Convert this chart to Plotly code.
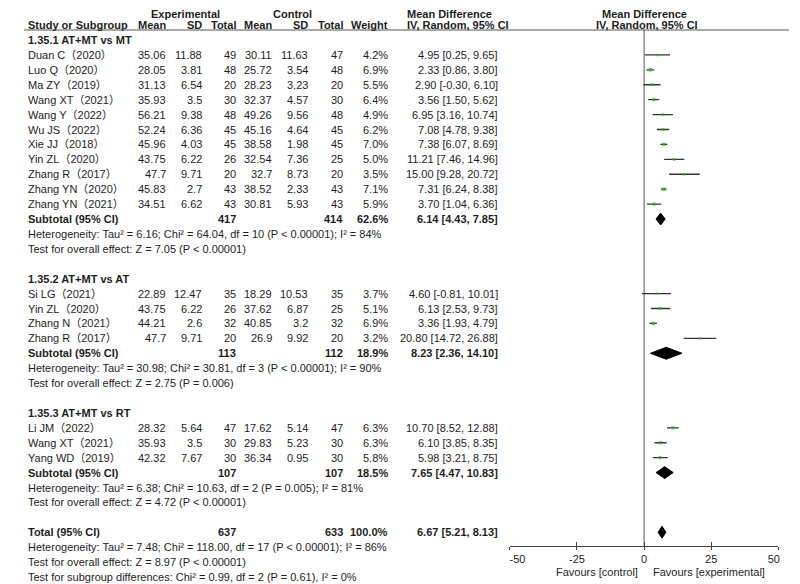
import plotly.graph_objects as go

# ---------------- data ----------------
groups = ["1.35.1 AT+MT vs MT", "1.35.2 AT+MT vs AT", "1.35.3 AT+MT vs RT"]

study_group = [0] * 11 + [1] * 4 + [2] * 3
studies = ["Duan C（2020）", "Luo Q（2020）", "Ma ZY（2019）", "Wang XT（2021）",
           "Wang Y（2022）", "Wu JS（2022）", "Xie JJ（2018）", "Yin ZL（2020）",
           "Zhang R（2017）", "Zhang YN（2020）", "Zhang YN（2021）",
           "Si LG（2021）", "Yin ZL（2020）", "Zhang N（2021）", "Zhang R（2017）",
           "Li JM（2022）", "Wang XT（2021）", "Yang WD（2019）"]
exp_mean = ["35.06", "28.05", "31.13", "35.93", "56.21", "52.24", "45.96", "43.75", "47.7", "45.83", "34.51",
            "22.89", "43.75", "44.21", "47.7",
            "28.32", "35.93", "42.32"]
exp_sd = ["11.88", "3.81", "6.54", "3.5", "9.38", "6.36", "4.03", "6.22", "9.71", "2.7", "6.62",
          "12.47", "6.22", "2.6", "9.71",
          "5.64", "3.5", "7.67"]
exp_n = [49, 48, 20, 30, 48, 45, 45, 26, 20, 43, 43,
         35, 26, 32, 20,
         47, 30, 30]
ctl_mean = ["30.11", "25.72", "28.23", "32.37", "49.26", "45.16", "38.58", "32.54", "32.7", "38.52", "30.81",
            "18.29", "37.62", "40.85", "26.9",
            "17.62", "29.83", "36.34"]
ctl_sd = ["11.63", "3.54", "3.23", "4.57", "9.56", "4.64", "1.98", "7.36", "8.73", "2.33", "5.93",
          "10.53", "6.87", "3.2", "9.92",
          "5.14", "5.23", "0.95"]
ctl_n = [47, 48, 20, 30, 48, 45, 45, 25, 20, 43, 43,
         35, 25, 32, 20,
         47, 30, 30]
weight = [4.2, 6.9, 5.5, 6.4, 4.9, 6.2, 7.0, 5.0, 3.5, 7.1, 5.9,
          3.7, 5.1, 6.9, 3.2,
          6.3, 6.3, 5.8]
md = [4.95, 2.33, 2.90, 3.56, 6.95, 7.08, 7.38, 11.21, 15.00, 7.31, 3.70,
      4.60, 6.13, 3.36, 20.80,
      10.70, 6.10, 5.98]
md_lo = [0.25, 0.86, -0.30, 1.50, 3.16, 4.78, 6.07, 7.46, 9.28, 6.24, 1.04,
         -0.81, 2.53, 1.93, 14.72,
         8.52, 3.85, 3.21]
md_hi = [9.65, 3.80, 6.10, 5.62, 10.74, 9.38, 8.69, 14.96, 20.72, 8.38, 6.36,
         10.01, 9.73, 4.79, 26.88,
         12.88, 8.35, 8.75]

sub_exp_n = [417, 113, 107]
sub_ctl_n = [414, 112, 107]
sub_weight = ["62.6%", "18.9%", "18.5%"]
sub_md = [6.14, 8.23, 7.65]
sub_lo = [4.43, 2.36, 4.47]
sub_hi = [7.85, 14.10, 10.83]
sub_het = ["Heterogeneity: Tau² = 6.16; Chi² = 64.04, df = 10 (P < 0.00001); I² = 84%",
           "Heterogeneity: Tau² = 30.98; Chi² = 30.81, df = 3 (P < 0.00001); I² = 90%",
           "Heterogeneity: Tau² = 6.38; Chi² = 10.63, df = 2 (P = 0.005); I² = 81%"]
sub_test = ["Test for overall effect: Z = 7.05 (P < 0.00001)",
            "Test for overall effect: Z = 2.75 (P = 0.006)",
            "Test for overall effect: Z = 4.72 (P < 0.00001)"]

total_exp_n = 637
total_ctl_n = 633
total_weight = "100.0%"
total_md, total_lo, total_hi = 6.67, 5.21, 8.13
total_notes = ["Heterogeneity: Tau² = 7.48; Chi² = 118.00, df = 17 (P < 0.00001); I² = 86%",
               "Test for overall effect: Z = 8.97 (P < 0.00001)",
               "Test for subgroup differences: Chi² = 0.99, df = 2 (P = 0.61), I² = 0%"]

x_ticks = [-50, -25, 0, 25, 50]
x_tick_labels = ["-50", "-25", "0", "25", "50"]
favours = ["Favours [control]", "Favours [experimental]"]

# ---------------- layout helpers ----------------
# the page body has an 8px margin, so the figure is 8px smaller and all
# reference-pixel positions are shifted by OFF
OFF = 8
W, H = 800 - OFF, 584 - OFF
FONT = "Liberation Sans, Arial, Noto Sans CJK SC, sans-serif"
TXT = "#1e1e1e"
FS = 11

ROW_PX = 14.917
TOP_PX = 40.0 - OFF


def px(x):
    return (x - OFF) / W


def px_to_row(p):
    return ((p - OFF) - TOP_PX) / ROW_PX


ann = []


def text(x, row, s, anchor="left", bold=False):
    ann.append(dict(x=px(x), y=row, xref="paper", yref="y", text=("<b>%s</b>" % s) if bold else s,
                    showarrow=False, xanchor=anchor, yanchor="middle",
                    font=dict(family=FONT, size=FS, color=TXT)))


# column positions (reference pixels)
C_NAME = 10
C_EM, C_ESD, C_EN = 157, 194, 230
C_CM, C_CSD, C_CN = 267, 304, 340
C_W = 387
C_CI = 501

# headers
h1 = px_to_row(14)
text(175, h1, "Experimental", "center", True)
text(286, h1, "Control", "center", True)
text(402, h1, "Mean Difference", "left", True)
text(650, h1, "Mean Difference", "center", True)
hr = px_to_row(25)
text(C_NAME, hr, "Study or Subgroup", "left", True)
for xx, s in [(C_EM, "Mean"), (C_ESD, "SD"), (C_EN, "Total"), (C_CM, "Mean"), (C_CSD, "SD"),
              (C_CN, "Total"), (C_W, "Weight")]:
    text(xx, hr, s, "right", True)
text(402, hr, "IV, Random, 95% CI", "left", True)
text(653, hr, "IV, Random, 95% CI", "center", True)

fig = go.Figure()

row = 0
study_rows = []
sub_rows = []
for g, gname in enumerate(groups):
    text(C_NAME, row, gname, "left", True)
    row += 1
    for i in range(len(studies)):
        if study_group[i] != g:
            continue
        text(C_NAME, row, studies[i])
        text(C_EM, row, exp_mean[i], "right")
        text(C_ESD, row, exp_sd[i], "right")
        text(C_EN, row, str(exp_n[i]), "right")
        text(C_CM, row, ctl_mean[i], "right")
        text(C_CSD, row, ctl_sd[i], "right")
        text(C_CN, row, str(ctl_n[i]), "right")
        text(C_W, row, "%.1f%%" % weight[i], "right")
        text(C_CI, row, "%.2f [%.2f, %.2f]" % (md[i], md_lo[i], md_hi[i]), "right")
        study_rows.append(row)
        row += 1
    text(C_NAME, row, "Subtotal (95% CI)", "left", True)
    text(C_EN, row, str(sub_exp_n[g]), "right", True)
    text(C_CN, row, str(sub_ctl_n[g]), "right", True)
    text(C_W, row, sub_weight[g], "right", True)
    text(C_CI, row, "%.2f [%.2f, %.2f]" % (sub_md[g], sub_lo[g], sub_hi[g]), "right", True)
    sub_rows.append(row)
    row += 1
    text(C_NAME, row, sub_het[g])
    row += 1
    text(C_NAME, row, sub_test[g])
    row += 2

total_row = row
text(C_NAME, row, "Total (95% CI)", "left", True)
text(C_EN, row, str(total_exp_n), "right", True)
text(C_CN, row, str(total_ctl_n), "right", True)
text(C_W, row, total_weight, "right", True)
text(C_CI, row, "%.2f [%.2f, %.2f]" % (total_md, total_lo, total_hi), "right", True)
for k, s in enumerate(total_notes):
    text(C_NAME, row + 1 + k, s)

# favours labels
text(646, px_to_row(572), favours[0], "right")
text(657, px_to_row(572), favours[1], "left")

# ---------------- forest marks ----------------
axis_px = 546
axis_row = px_to_row(axis_px)
header_row = px_to_row(30)

# zero line
fig.add_trace(go.Scatter(x=[0, 0], y=[header_row, axis_row], mode="lines",
                         line=dict(color="#555555", width=1), hoverinfo="skip", showlegend=False))

# CI lines
for i, r in enumerate(study_rows):
    fig.add_trace(go.Scatter(x=[md_lo[i], md_hi[i]], y=[r, r], mode="lines",
                             line=dict(color="#333333", width=1.3), hoverinfo="skip", showlegend=False))
# study squares
fig.add_trace(go.Scatter(x=md, y=study_rows, mode="markers",
                         marker=dict(symbol="square", color="#3aa83a",
                                     size=[1.2 + w * 0.33 for w in weight], line=dict(width=0)),
                         hoverinfo="skip", showlegend=False))

# diamonds
DH = 0.4
for g, r in enumerate(sub_rows + [total_row]):
    if g < len(sub_rows):
        lo, m, hi = sub_lo[g], sub_md[g], sub_hi[g]
    else:
        lo, m, hi = total_lo, total_md, total_hi
    fig.add_trace(go.Scatter(x=[lo, m, hi, m, lo], y=[r, r - DH, r, r + DH, r], mode="lines",
                             fill="toself", fillcolor="#000000", line=dict(color="#000000", width=1),
                             hoverinfo="skip", showlegend=False))

# header rule across full width
shapes = [dict(type="line", xref="paper", yref="y", x0=0, x1=1, y0=header_row, y1=header_row,
               line=dict(color="#555555", width=1.2))]

y_top = px_to_row(OFF)
y_bot = px_to_row(OFF + H)
axis_pos = 1 - (axis_px - OFF) / H
xdom = [px(511), px(789)]

# end labels sit slightly inside their ticks, as in the reference
NB = "\u00a0"
tick_text = list(x_tick_labels)
tick_text[0] = NB * 5 + tick_text[0]
tick_text[-1] = tick_text[-1] + NB * 3

fig.update_layout(
    width=W, height=H,
    margin=dict(l=0, r=0, t=0, b=0),
    paper_bgcolor="white", plot_bgcolor="white",
    showlegend=False,
    annotations=ann,
    shapes=shapes,
    xaxis=dict(domain=xdom, range=[-50, 50], tickvals=x_ticks,
               ticktext=tick_text, showgrid=False, zeroline=False,
               showline=True, linecolor="#444444", linewidth=1, ticks="outside", ticklen=3,
               tickcolor="#444444", anchor="free", position=axis_pos, side="bottom",
               tickfont=dict(family=FONT, size=FS, color=TXT)),
    xaxis2=dict(domain=xdom, range=[-50, 50], tickvals=x_ticks, overlaying="x",
                showgrid=False, zeroline=False, showline=False, ticks="inside", ticklen=4,
                tickcolor="#444444", showticklabels=False, anchor="free", position=axis_pos,
                side="bottom"),
    yaxis=dict(domain=[0, 1], range=[y_bot, y_top], visible=False, showgrid=False, zeroline=False),
)
# invisible trace to activate xaxis2
fig.add_trace(go.Scatter(x=[0], y=[0], xaxis="x2", mode="markers", marker=dict(opacity=0),
                         hoverinfo="skip", showlegend=False))

fig.write_html("out.html")
